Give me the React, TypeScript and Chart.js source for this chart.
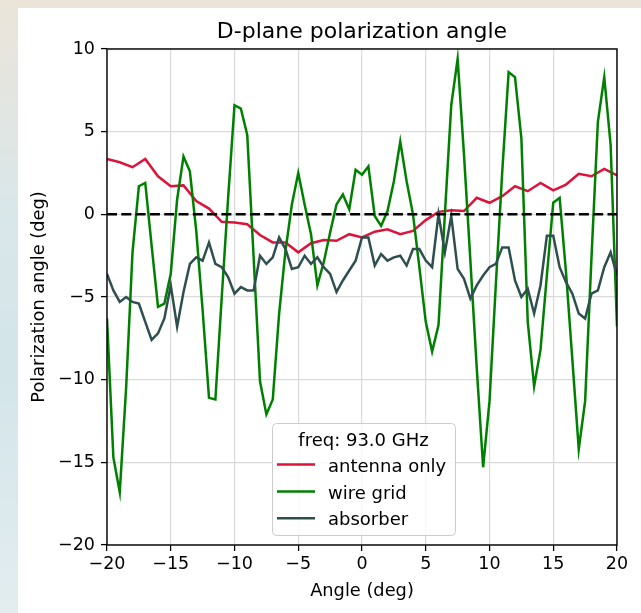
import React, { useEffect, useRef } from "react";
import { Chart, registerables } from "chart.js";

Chart.register(...registerables);

const coarseAngles = [
  -20, -19, -18, -17, -16, -15, -14, -13, -12, -11,
  -10, -9, -8, -7, -6, -5, -4, -3, -2, -1,
  0, 1, 2, 3, 4, 5, 6, 7, 8, 9,
  10, 11, 12, 13, 14, 15, 16, 17, 18, 19,
  20,
];

const fineAngles = [
  -20, -19.5, -19, -18.5, -18, -17.5, -17, -16.5, -16, -15.5,
  -15, -14.5, -14, -13.5, -13, -12.5, -12, -11.5, -11, -10.5,
  -10, -9.5, -9, -8.5, -8, -7.5, -7, -6.5, -6, -5.5,
  -5, -4.5, -4, -3.5, -3, -2.5, -2, -1.5, -1, -0.5,
  0, 0.5, 1, 1.5, 2, 2.5, 3, 3.5, 4, 4.5,
  5, 5.5, 6, 6.5, 7, 7.5, 8, 8.5, 9, 9.5,
  10, 10.5, 11, 11.5, 12, 12.5, 13, 13.5, 14, 14.5,
  15, 15.5, 16, 16.5, 17, 17.5, 18, 18.5, 19, 19.5,
  20,
];

const antennaOnly = [
  3.35, 3.15, 2.85, 3.35, 2.3, 1.7, 1.75, 0.8, 0.35, -0.45,
  -0.5, -0.6, -1.25, -1.7, -1.7, -2.3, -1.75, -1.55, -1.6, -1.2,
  -1.4, -1.05, -0.9, -1.2, -1.0, -0.35, 0.15, 0.25, 0.2, 1.0,
  0.7, 1.1, 1.7, 1.4, 1.9, 1.45, 1.8, 2.45, 2.3, 2.75,
  2.35,
];

const wireGrid = [
  -6.3, -14.7, -16.8, -10.5, -2.3, 1.7, 1.9, -1.9, -5.6, -5.4,
  -3.6, 0.9, 3.5, 2.6, -1.0, -5.8, -11.1, -11.2, -5.0, 1.0,
  6.6, 6.4, 4.8, -2.6, -10.1, -12.1, -11.2, -6.0, -2.2, 0.6,
  2.5, 0.6, -1.2, -4.3, -2.9, -1.1, 0.6, 1.2, 0.3, 2.7,
  2.4, 2.9, -0.1, -0.7, 0.2, 2.0, 4.4, 2.0, 0.0, -3.2,
  -6.5, -8.3, -6.7, 0.0, 6.6, 9.4, 3.6, -2.8, -9.3, -15.3,
  -11.3, -4.2, 2.6, 8.6, 8.3, 4.6, -6.5, -10.4, -8.2, -3.7,
  0.7, 1.0, -3.5, -8.8, -14.2, -11.3, -2.6, 5.6, 8.3, 4.2,
  -6.8,
];

const absorber = [
  -3.6, -4.6, -5.3, -5.0, -5.3, -5.4, -6.5, -7.6, -7.2, -6.3,
  -4.3, -6.8, -4.7, -3.0, -2.6, -2.8, -1.7, -3.0, -3.2, -3.8,
  -4.8, -4.4, -4.6, -4.6, -2.5, -3.0, -2.6, -1.4, -2.1, -3.3,
  -3.2, -2.5, -3.0, -2.6, -3.2, -3.6, -4.7, -4.0, -3.4, -2.8,
  -1.4, -1.4, -3.1, -2.4, -2.8, -2.6, -2.5, -3.1, -2.1, -2.1,
  -2.8, -3.2, 0.0, -2.3, -0.1, -3.3, -3.9, -5.1, -4.3, -3.7,
  -3.2, -3.0, -2.0, -2.0, -4.0, -5.0, -4.5, -6.0, -4.3, -1.3,
  -1.3, -3.2, -4.1, -4.8, -6.0, -6.3, -4.8, -4.6, -3.2, -2.3,
  -3.7,
];

const zeroLineX = [-20, 20];
const zeroLineY = [0, 0];

const xTicks = [-20, -15, -10, -5, 0, 5, 10, 15, 20];
const yTicks = [-20, -15, -10, -5, 0, 5, 10];

const seriesNames = ["antenna only", "wire grid", "absorber"];
const seriesColors = ["#dc143c", "#008000", "#2f4f4f"];
const legendTitle = "freq: 93.0 GHz";
const chartTitle = "D-plane polarization angle";
const xLabel = "Angle (deg)";
const yLabel = "Polarization angle (deg)";

const FONT = '"DejaVu Sans", "Liberation Sans", sans-serif';

const fmt = (v: number) => (v < 0 ? "\u2212" + Math.abs(v) : String(v));

const pairs = (xs: number[], ys: number[]) => xs.map((x, i) => ({ x, y: ys[i] }));

const decorPlugin = {
  id: "decor",
  afterDraw(chart: any) {
    const { ctx, chartArea } = chart;
    const { left, right, top, bottom } = chartArea;
    ctx.save();
    // spines
    ctx.strokeStyle = "#000";
    ctx.lineWidth = 1.4;
    ctx.strokeRect(left, top, right - left, bottom - top);

    // title
    ctx.fillStyle = "#000";
    ctx.textAlign = "center";
    ctx.textBaseline = "alphabetic";
    ctx.font = `22px ${FONT}`;
    ctx.fillText(chartTitle, (left + right) / 2, 38);

    // x label
    ctx.font = `17.8px ${FONT}`;
    ctx.fillText(xLabel, (left + right) / 2, 596);

    // y label
    ctx.save();
    ctx.translate(44, (top + bottom) / 2);
    ctx.rotate(-Math.PI / 2);
    ctx.fillText(yLabel, 0, 0);
    ctx.restore();

    // legend
    const lx = 272, ly = 423, lw = 183, lh = 112;
    ctx.beginPath();
    if ((ctx as any).roundRect) {
      (ctx as any).roundRect(lx + 0.5, ly + 0.5, lw, lh, 4);
    } else {
      ctx.rect(lx + 0.5, ly + 0.5, lw, lh);
    }
    ctx.fillStyle = "rgba(255,255,255,0.8)";
    ctx.fill();
    ctx.strokeStyle = "#cccccc";
    ctx.lineWidth = 1;
    ctx.stroke();

    ctx.fillStyle = "#000";
    ctx.font = `18px ${FONT}`;
    ctx.textAlign = "center";
    ctx.fillText(legendTitle, lx + lw / 2, 446);

    const rowsY = [464.5, 491.5, 518.3];
    ctx.textAlign = "left";
    seriesNames.forEach((name, i) => {
      const y = rowsY[i];
      ctx.strokeStyle = seriesColors[i];
      ctx.lineWidth = 2.5;
      ctx.beginPath();
      ctx.moveTo(277, y);
      ctx.lineTo(315, y);
      ctx.stroke();
      ctx.fillStyle = "#000";
      ctx.fillText(name, 328, y + 7);
    });
    ctx.restore();
  },
};

export default function App() {
  const canvasRef = useRef<HTMLCanvasElement | null>(null);

  useEffect(() => {
    const canvas = canvasRef.current;
    if (!canvas) return;
    const lineDs = (label: string, data: any[], color: string, order: number) => ({
      label,
      data,
      borderColor: color,
      backgroundColor: color,
      borderWidth: 2.5,
      pointRadius: 0,
      tension: 0,
      fill: false,
      order,
    });
    const chart = new Chart(canvas, {
      type: "line",
      data: {
        datasets: [
          {
            label: "zero",
            data: pairs(zeroLineX, zeroLineY),
            borderColor: "#000",
            borderWidth: 2.5,
            borderDash: [10, 4.3],
            pointRadius: 0,
            fill: false,
            order: 0,
          },
          lineDs(seriesNames[2], pairs(fineAngles, absorber), seriesColors[2], 1),
          lineDs(seriesNames[1], pairs(fineAngles, wireGrid), seriesColors[1], 2),
          lineDs(seriesNames[0], pairs(coarseAngles, antennaOnly), seriesColors[0], 3),
        ],
      },
      options: {
        responsive: false,
        animation: false,
        devicePixelRatio: 1,
        layout: { padding: { left: 0, right: 24, top: 49, bottom: 0 } },
        plugins: {
          legend: { display: false },
          title: { display: false },
          tooltip: { enabled: false },
        },
        scales: {
          x: {
            type: "linear",
            min: -20,
            max: 20,
            afterBuildTicks: (s: any) => {
              s.ticks = xTicks.map((v) => ({ value: v }));
            },
            afterFit: (s: any) => {
              s.height = 68;
            },
            ticks: {
              font: { family: FONT, size: 17.5 },
              color: "#000",
              padding: 3,
              maxRotation: 0,
              autoSkip: false,
              callback: (v: any) => fmt(Number(v)),
            },
            grid: {
              color: "#dadada",
              lineWidth: 1.2,
              tickColor: "#000",
              tickLength: 6,
              tickWidth: 1.3,
            },
            border: { display: false },
          },
          y: {
            type: "linear",
            min: -20,
            max: 10,
            afterBuildTicks: (s: any) => {
              s.ticks = yTicks.map((v) => ({ value: v }));
            },
            afterFit: (s: any) => {
              s.width = 107;
            },
            ticks: {
              font: { family: FONT, size: 17.5 },
              color: "#000",
              padding: 6,
              autoSkip: false,
              callback: (v: any) => fmt(Number(v)),
            },
            grid: {
              color: "#dadada",
              lineWidth: 1.2,
              tickColor: "#000",
              tickLength: 6,
              tickWidth: 1.3,
            },
            border: { display: false },
          },
        },
      },
      plugins: [decorPlugin],
    } as any);
    return () => chart.destroy();
  }, []);

  return (
    <div
      style={{
        position: "absolute",
        left: 0,
        top: 0,
        width: 641,
        height: 613,
        overflow: "hidden",
        background:
          "linear-gradient(180deg, #ebe4d9 0%, #d9e7ea 35%, #d3e5e9 60%, #e3edf0 100%)",
      }}
    >
      <div
        style={{
          position: "absolute",
          left: 18,
          top: 8,
          width: 623,
          height: 605,
          background: "#ffffff",
        }}
      />
      <canvas
        ref={canvasRef}
        width={641}
        height={613}
        style={{ position: "absolute", left: 0, top: 0, display: "block" }}
      />
    </div>
  );
}
